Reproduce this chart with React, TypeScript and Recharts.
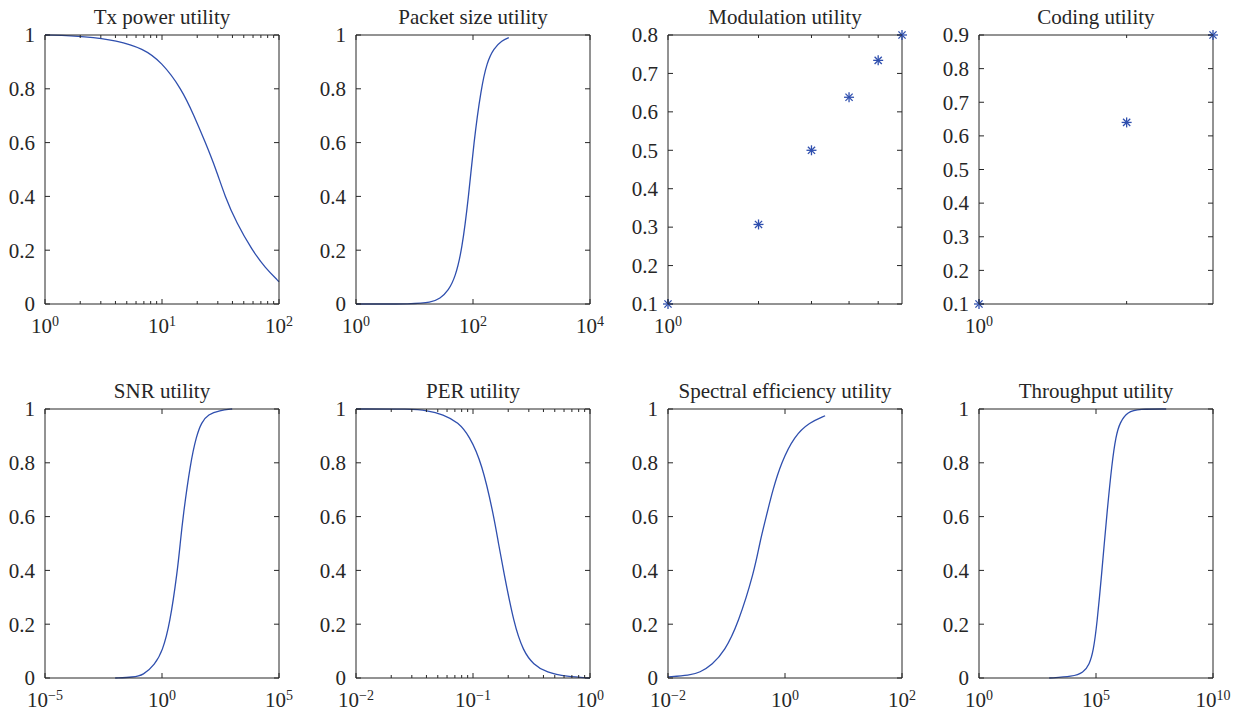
import { ComposedChart, Line, Scatter, XAxis, YAxis } from "recharts"

// Utility curves, read as (x, utility) pairs
const txPowerX = [1, 2.27, 4.1, 6.9, 9.9, 14.7, 18.8, 23.5, 29, 34.5, 43.5, 59, 76, 100]
const txPowerY = [1, 0.995, 0.98, 0.95, 0.9, 0.8, 0.7, 0.6, 0.5, 0.4, 0.3, 0.2, 0.135, 0.083]

const packetX = [1, 10, 18.6, 27.5, 38, 49.8, 64.7, 84.3, 103, 137, 174, 226, 314, 409]
const packetY = [0, 0, 0.005, 0.02, 0.05, 0.1, 0.2, 0.4, 0.6, 0.8, 0.9, 0.95, 0.98, 0.99]

const modulationX = [1, 2, 3, 4, 5, 6]
const modulationY = [0.1, 0.307, 0.5, 0.638, 0.734, 0.8]

const codingX = [1, 2, 3]
const codingY = [0.1, 0.64, 0.9]

const snrX = [0.01, 0.059, 0.157, 0.494, 1.05, 2.16, 4.6, 6.0, 7.9, 16.4, 29.6, 48.5, 93, 294, 1000]
const snrY = [0, 0.003, 0.01, 0.05, 0.1, 0.2, 0.4, 0.5, 0.6, 0.8, 0.9, 0.95, 0.98, 0.995, 1]

const perX = [0.01, 0.03, 0.04, 0.0557, 0.075, 0.093, 0.119, 0.151, 0.165, 0.182, 0.224, 0.269, 0.328, 0.427, 0.632, 1]
const perY = [1, 1, 0.995, 0.98, 0.95, 0.9, 0.8, 0.6, 0.5, 0.4, 0.2, 0.1, 0.05, 0.02, 0.005, 0]

const spectralX = [0.01, 0.0234, 0.0348, 0.0572, 0.0928, 0.157, 0.302, 0.367, 0.477, 0.62, 0.861, 1.45, 2.62, 4.85]
const spectralY = [0.004, 0.01, 0.02, 0.05, 0.1, 0.2, 0.4, 0.5, 0.6, 0.7, 0.8, 0.9, 0.95, 0.975]

const throughputX = [1e3, 1e4, 2.9e4, 5.2e4, 7.7e4, 1.1e5, 1.8e5, 2.26e5, 2.85e5, 4.81e5, 7.1e5, 1.05e6, 2.24e6, 7e6, 1e8]
const throughputY = [0, 0.005, 0.02, 0.05, 0.1, 0.2, 0.4, 0.5, 0.6, 0.8, 0.9, 0.95, 0.99, 1, 1]

// Axis ticks
const unitTicks = [0, 0.2, 0.4, 0.6, 0.8, 1]
const modulationYTicks = [0.1, 0.2, 0.3, 0.4, 0.5, 0.6, 0.7, 0.8]
const codingYTicks = [0.1, 0.2, 0.3, 0.4, 0.5, 0.6, 0.7, 0.8, 0.9]

const txPowerTicks = [1, 2, 3, 4, 5, 6, 7, 8, 9, 10, 20, 30, 40, 50, 60, 70, 80, 90, 100]
const perTicks = [0.01, 0.02, 0.03, 0.04, 0.05, 0.06, 0.07, 0.08, 0.09, 0.1, 0.2, 0.3, 0.4, 0.5, 0.6, 0.7, 0.8, 0.9, 1]

const AXIS = "#262626"
const TEXT = "#262626"
const BLUE = "#2f4fae"
const FONT = '"Liberation Serif", "DejaVu Serif", serif'

const CHART_W = 311
const CHART_H = 344
const PLOT_W = 234
const Y_AXIS_W = 45
const MARGIN_TOP = 35
const X_AXIS_H = 40
// the mirrored top/right axes only draw the box edge and inner ticks
const MIRROR = 1

const isLabelled = (v: number, labels: number[]) => labels.some((l) => Math.abs(l - v) <= Math.abs(l) * 1e-6)

function PowerLabel({ x, y, exp }: { x: number; y: number; exp: number }) {
  const e = exp < 0 ? `\u2212${-exp}` : String(exp)
  return (
    <text x={x} y={y} textAnchor="middle" fontFamily={FONT} fontSize={21} fill={TEXT}>
      10
      <tspan dy={-7} fontSize={14}>
        {e}
      </tspan>
    </text>
  )
}

const bottomTick = (labels: number[]) => (p: any) => {
  const v = p.payload.value
  const major = isLabelled(v, labels)
  return (
    <g key={`b-${v}`}>
      <line x1={p.x} x2={p.x} y1={p.y} y2={p.y - (major ? 5 : 3)} stroke={AXIS} />
      {major && <PowerLabel x={p.x} y={p.y + 29} exp={Math.round(Math.log10(v))} />}
    </g>
  )
}

const topTick = (labels: number[]) => (p: any) => {
  const v = p.payload.value
  const major = isLabelled(v, labels)
  return <line key={`t-${v}`} x1={p.x} x2={p.x} y1={p.y} y2={p.y + (major ? 5 : 3)} stroke={AXIS} />
}

const leftTick = (p: any) => (
  <g key={`l-${p.payload.value}`}>
    <line x1={p.x} x2={p.x + 5} y1={p.y} y2={p.y} stroke={AXIS} />
    <text x={p.x - 10} y={p.y} dy="0.35em" textAnchor="end" fontFamily={FONT} fontSize={21} fill={TEXT}>
      {String(p.payload.value)}
    </text>
  </g>
)

const rightTick = (p: any) => (
  <line key={`r-${p.payload.value}`} x1={p.x} x2={p.x - 5} y1={p.y} y2={p.y} stroke={AXIS} />
)

const Asterisk = (p: any) => {
  const { cx, cy } = p
  const r = 5
  const d = 3.6
  return (
    <g stroke={BLUE} strokeWidth={1.3}>
      <line x1={cx - r} x2={cx + r} y1={cy} y2={cy} />
      <line x1={cx} x2={cx} y1={cy - r} y2={cy + r} />
      <line x1={cx - d} x2={cx + d} y1={cy - d} y2={cy + d} />
      <line x1={cx - d} x2={cx + d} y1={cy + d} y2={cy - d} />
    </g>
  )
}

interface PanelProps {
  title: string
  left: number
  top: number
  xs: number[]
  ys: number[]
  xDomain: [number, number]
  xTicks: number[]
  xLabels: number[]
  yDomain: [number, number]
  yTicks: number[]
  markers?: boolean
}

const Panel = ({ title, left, top, xs, ys, xDomain, xTicks, xLabels, yDomain, yTicks, markers }: PanelProps) => {
  const data = xs.map((x, i) => ({ x, y: ys[i] }))

  return (
    <div style={{ position: "absolute", left, top, width: CHART_W, height: CHART_H }}>
      <div
        style={{
          position: "absolute",
          left: Y_AXIS_W - 40,
          width: PLOT_W + 80,
          top: 5,
          textAlign: "center",
          fontFamily: FONT,
          fontSize: 21,
          lineHeight: "24px",
          color: TEXT,
          whiteSpace: "nowrap",
        }}
      >
        {title}
      </div>
      <ComposedChart
        width={CHART_W}
        height={CHART_H}
        data={data}
        margin={{ top: MARGIN_TOP - MIRROR, right: CHART_W - Y_AXIS_W - PLOT_W - MIRROR, bottom: 0, left: 0 }}
      >
        <XAxis
          dataKey="x"
          type="number"
          scale="log"
          domain={xDomain}
          ticks={xTicks}
          interval={0}
          height={X_AXIS_H}
          tickSize={0}
          tickMargin={0}
          tickLine={false}
          axisLine={{ stroke: AXIS }}
          tick={bottomTick(xLabels)}
        />
        <XAxis
          xAxisId="top"
          orientation="top"
          dataKey="x"
          type="number"
          scale="log"
          domain={xDomain}
          allowDataOverflow
          ticks={xTicks}
          interval={0}
          height={MIRROR}
          tickSize={0}
          tickMargin={0}
          tickLine={false}
          axisLine={{ stroke: AXIS }}
          tick={topTick(xLabels)}
        />
        <YAxis
          dataKey="y"
          type="number"
          domain={yDomain}
          ticks={yTicks}
          interval={0}
          width={Y_AXIS_W}
          tickSize={0}
          tickMargin={0}
          tickLine={false}
          axisLine={{ stroke: AXIS }}
          tick={leftTick}
        />
        <YAxis
          yAxisId="right"
          orientation="right"
          type="number"
          domain={yDomain}
          allowDataOverflow
          ticks={yTicks}
          interval={0}
          width={MIRROR}
          tickSize={0}
          tickMargin={0}
          tickLine={false}
          axisLine={{ stroke: AXIS }}
          tick={rightTick}
        />
        {/* invisible series that keeps the mirrored axes attached */}
        <Line
          xAxisId="top"
          yAxisId="right"
          dataKey="y"
          stroke="none"
          dot={false}
          activeDot={false}
          isAnimationActive={false}
        />
        {markers ? (
          <Scatter dataKey="y" shape={Asterisk} isAnimationActive={false} />
        ) : (
          <Line
            dataKey="y"
            type="basis"
            stroke={BLUE}
            strokeWidth={1.3}
            dot={false}
            activeDot={false}
            isAnimationActive={false}
          />
        )}
      </ComposedChart>
    </div>
  )
}

const COLS = [0, 311, 623, 934]
const ROWS = [0, 374]

export default function App() {
  return (
    <div style={{ position: "absolute", left: 0, top: 0, width: 1242, height: 717, background: "#fff" }}>
      <Panel title="Tx power utility" left={COLS[0]} top={ROWS[0]} xs={txPowerX} ys={txPowerY}
        xDomain={[1, 100]} xTicks={txPowerTicks} xLabels={[1, 10, 100]} yDomain={[0, 1]} yTicks={unitTicks} />
      <Panel title="Packet size utility" left={COLS[1]} top={ROWS[0]} xs={packetX} ys={packetY}
        xDomain={[1, 1e4]} xTicks={[1, 100, 1e4]} xLabels={[1, 100, 1e4]} yDomain={[0, 1]} yTicks={unitTicks} />
      <Panel title="Modulation utility" left={COLS[2]} top={ROWS[0]} xs={modulationX} ys={modulationY}
        xDomain={[1, 6]} xTicks={[1, 2, 3, 4, 5]} xLabels={[1]} yDomain={[0.1, 0.8]} yTicks={modulationYTicks} markers />
      <Panel title="Coding utility" left={COLS[3]} top={ROWS[0]} xs={codingX} ys={codingY}
        xDomain={[1, 3]} xTicks={[1, 2]} xLabels={[1]} yDomain={[0.1, 0.9]} yTicks={codingYTicks} markers />
      <Panel title="SNR utility" left={COLS[0]} top={ROWS[1]} xs={snrX} ys={snrY}
        xDomain={[1e-5, 1e5]} xTicks={[1e-5, 1, 1e5]} xLabels={[1e-5, 1, 1e5]} yDomain={[0, 1]} yTicks={unitTicks} />
      <Panel title="PER utility" left={COLS[1]} top={ROWS[1]} xs={perX} ys={perY}
        xDomain={[0.01, 1]} xTicks={perTicks} xLabels={[0.01, 0.1, 1]} yDomain={[0, 1]} yTicks={unitTicks} />
      <Panel title="Spectral efficiency utility" left={COLS[2]} top={ROWS[1]} xs={spectralX} ys={spectralY}
        xDomain={[0.01, 100]} xTicks={[0.01, 1, 100]} xLabels={[0.01, 1, 100]} yDomain={[0, 1]} yTicks={unitTicks} />
      <Panel title="Throughput utility" left={COLS[3]} top={ROWS[1]} xs={throughputX} ys={throughputY}
        xDomain={[1, 1e10]} xTicks={[1, 1e5, 1e10]} xLabels={[1, 1e5, 1e10]} yDomain={[0, 1]} yTicks={unitTicks} />
    </div>
  )
}
